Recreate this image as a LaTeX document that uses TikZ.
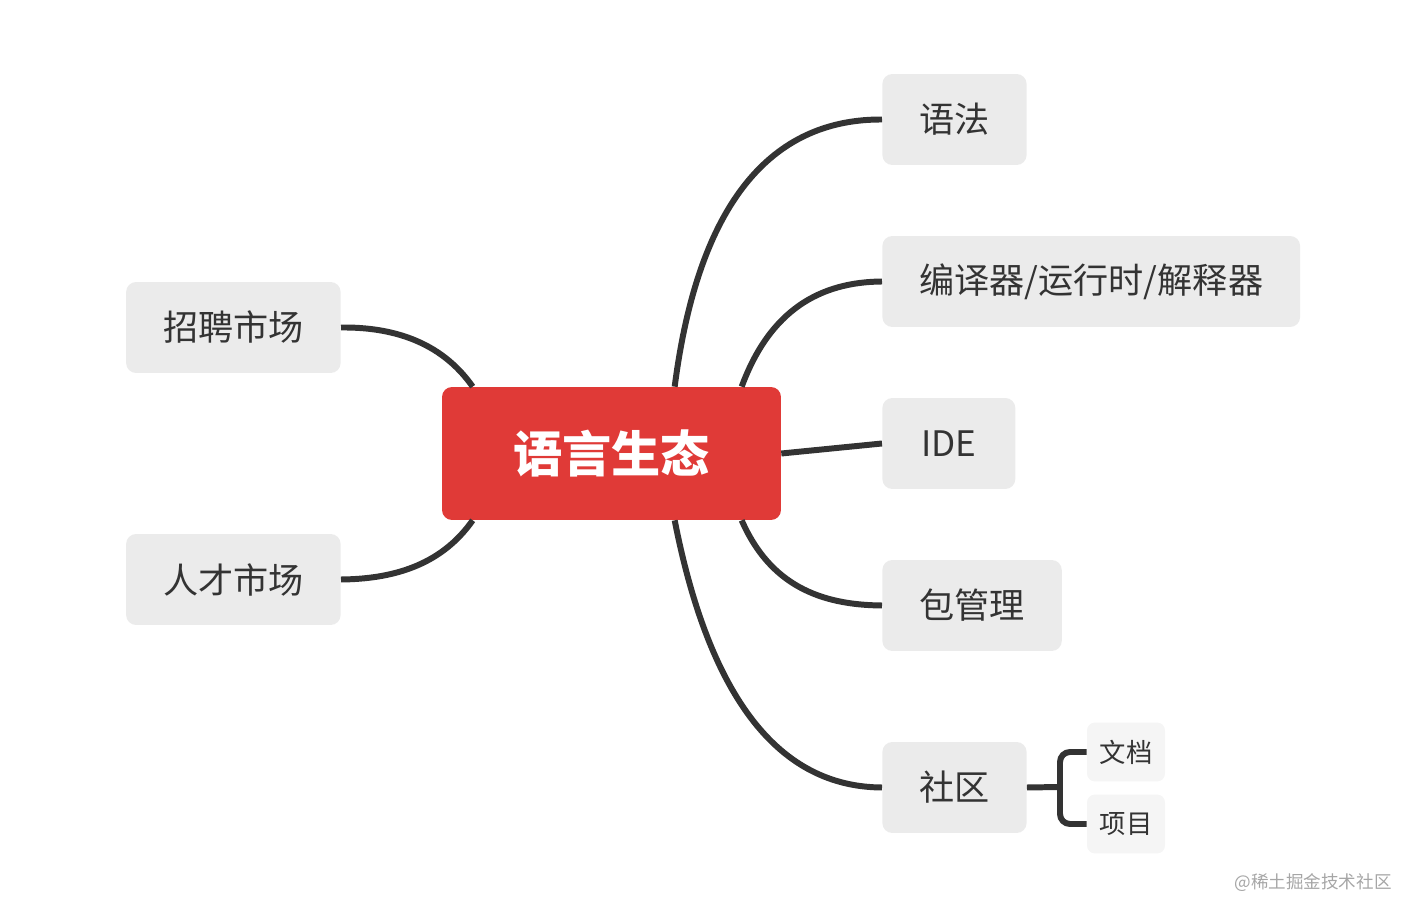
\documentclass[tikz,border=0pt]{standalone}
\usepackage{fontspec}
\setmainfont{Noto Sans CJK SC}
\usetikzlibrary{positioning,calc}
\definecolor{rootred}{HTML}{E03A37}
\definecolor{leafgray}{HTML}{EBEBEB}
\definecolor{subgray}{HTML}{F5F5F5}
\definecolor{linkdark}{HTML}{333333}
\begin{document}
\begin{tikzpicture}
[x=0.02cm, y=-0.02cm,
root/.style={rectangle, rounded corners=0.2cm, fill=rootred, text=white, font=\fontsize{28}{30}\selectfont\bfseries, minimum width=6.78cm, minimum height=2.66cm},
leaf/.style={rectangle, rounded corners=0.2cm, fill=leafgray, text=linkdark, font=\fontsize{20}{22}\selectfont, minimum height=1.82cm, inner xsep=0.74cm},
sub/.style={rectangle, rounded corners=0.16cm, fill=subgray, text=linkdark, font=\fontsize{15}{17}\selectfont, minimum width=1.56cm, minimum height=1.18cm},
link/.style={draw=linkdark, line width=3.4pt},]
\useasboundingbox (0,0) rectangle (1418,918);
\node (root)    [root] at (611.5,453.5) {语言生态};
\node (syntax)  [leaf, anchor=west] at (882,119.5) {语法};
\node (runtime) [leaf, anchor=west] at (882,281.5) {编译器/运行时/解释器};
\node (ide)     [leaf, anchor=west, minimum width=2.66cm] at (882,443.5) {IDE};
\node (pkg)     [leaf, anchor=west] at (882,605.5) {包管理};
\node (comm)    [leaf, anchor=west] at (882,787.5) {社区};
\node (hire)    [leaf, anchor=east] at (341,327.5) {招聘市场};
\node (talent)  [leaf, anchor=east] at (341,579.5) {人才市场};
\node (docs)    [sub] at (1126,752) {文档};
\node (proj)    [sub] at (1126,824) {项目};
\node (mark) [text=gray!70, font=\fontsize{10}{12}\selectfont] at (1313,883) {@稀土掘金技术社区};
\coordinate (rt1) at ($(root.north west)+(233,0)$);
\coordinate (rt2) at ($(root.north west)+(300,0)$);
\coordinate (rt3) at ($(root.north west)+(31,0)$);
\coordinate (rb1) at ($(root.south west)+(233,0)$);
\coordinate (rb2) at ($(root.south west)+(300,0)$);
\coordinate (rb3) at ($(root.south west)+(31,0)$);
\coordinate (fork) at (1060,787);
\draw [link] (rt1) .. controls (700,190) and (780,119) .. (syntax.west);
\draw [link] (rt2) .. controls (770,310) and (820,282) .. (runtime.west);
\draw [link] (root.east) -- (ide.west);
\draw [link] (rb2) .. controls (770,585) and (820,605) .. (pkg.west);
\draw [link] (rb1) .. controls (710,700) and (780,787) .. (comm.west);
\draw [link] (rt3) .. controls (440,340) and (390,327) .. (hire.east);
\draw [link] (rb3) .. controls (440,567) and (390,579) .. (talent.east);
\draw [link] (comm.east) -- (fork);
\draw [link, rounded corners=0.2cm] (docs.west) -| (fork) |- (proj.west);
\end{tikzpicture}
\end{document}
